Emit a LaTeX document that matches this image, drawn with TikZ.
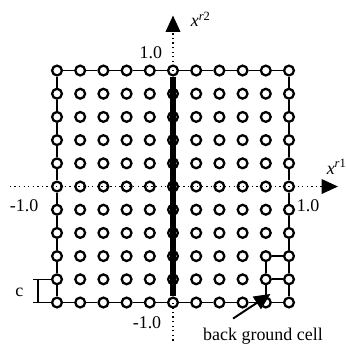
\documentclass[tikz,border=0pt]{standalone}
\usepackage{fontspec}
\setmainfont{Liberation Serif}
\usetikzlibrary{arrows.meta}
\begin{document}
\begin{tikzpicture}
[x=0.5cm, y=0.5cm,
 every node/.style={font=\fontsize{11}{13}\selectfont},
 site/.style={shape=circle, draw, fill=white, line width=1.4pt, minimum size=6pt, inner sep=0pt},
 link/.style={line width=1.1pt},
 tip/.style={-{Triangle[length=10pt,width=9pt]}},
 axis/.style={dotted, line width=0.8pt, tip}]
\useasboundingbox (-7.457,-6.96) rectangle (7.414,8.04);
% lattice of sites
\foreach \i in {0,...,10}
  \foreach \j in {0,...,10}
    \node (p-\i-\j) at (\i-5,5-\j) [site] {};
% outer border
\foreach \i [count=\k] in {0,...,9} {
  \draw [link] (p-\i-0) -- (p-\k-0);
  \draw [link] (p-\i-10) -- (p-\k-10);
  \draw [link] (p-0-\i) -- (p-0-\k);
  \draw [link] (p-10-\i) -- (p-10-\k);
}
% back ground cell
\draw [link] (p-9-8) -- (p-10-8);
\draw [link] (p-9-9) -- (p-10-9);
\draw [link] (p-9-8) -- (p-9-9);
\draw [link] (p-9-9) -- (p-9-10);
% thick centre line
\draw [line width=3.2pt] (p-5-0) -- (p-5-10);
% axes
\coordinate (x1-start) at (-7.03,0);
\coordinate (x1-end) at (7.11,0);
\coordinate (x2-start) at (0,-6.64);
\coordinate (x2-end) at (0,7.37);
\draw [axis] (x1-start) -- (x1-end);
\draw [axis] (x2-start) -- (x2-end);
\node (x1-label) at (6.38,0.85) [anchor=west] {\textit{x}\textsuperscript{\textit{r}1}};
\node (x2-label) at (0.52,7.2) [anchor=west] {\textit{x}\textsuperscript{\textit{r}2}};
% axis values
\node (top-val) at (-0.95,5.78) {1.0};
\node (bot-val) at (-1.12,-5.86) {-1.0};
\node (left-val) at (-6.42,-0.82) {-1.0};
\node (right-val) at (5.82,-0.82) {1.0};
% cell size c
\coordinate (c-top) at (-6.03,-4);
\coordinate (c-bot) at (-6.03,-5);
\coordinate (c-bar-top) at (-5.82,-4);
\coordinate (c-bar-bot) at (-5.82,-5);
\draw [line width=0.9pt] (c-top) -- (p-0-9);
\draw [line width=0.9pt] (c-bot) -- (p-0-10);
\draw [line width=0.9pt] (c-bar-top) -- (c-bar-bot);
\node (c-label) at (-6.62,-4.55) {c};
% back ground cell pointer
\node (bg-label) at (3.88,-6.47) {back ground cell};
\coordinate (bg-tail) at (2.59,-5.69);
\coordinate (bg-tip) at (4.2,-4.63);
\draw [line width=1.2pt, tip] (bg-tail) -- (bg-tip);
\end{tikzpicture}
\end{document}
